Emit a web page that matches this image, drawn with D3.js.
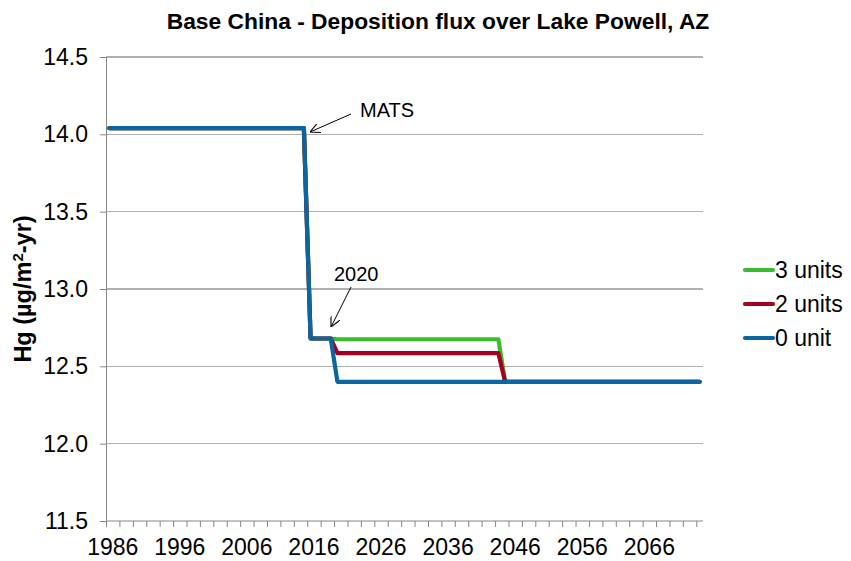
<!DOCTYPE html>
<html>
<head>
<meta charset="utf-8">
<script src="https://cdn.jsdelivr.net/npm/d3@7"></script>
<style>
  html, body { margin: 0; padding: 0; background: #ffffff; }
  svg { display: block; font-family: "Liberation Sans", Arial, sans-serif; }
</style>
</head>
<body>
<svg id="chart" width="851" height="561"></svg>
<script>
// Annual deposition flux, one value per year 1986–2074 (µg/m²-yr)
const years = d3.range(1986, 2075);

const units0 = [
  14.04, 14.04, 14.04, 14.04, 14.04, 14.04, 14.04, 14.04, 14.04, 14.04, // 1986-1995
  14.04, 14.04, 14.04, 14.04, 14.04, 14.04, 14.04, 14.04, 14.04, 14.04, // 1996-2005
  14.04, 14.04, 14.04, 14.04, 14.04, 14.04, 14.04, 14.04, 14.04, 14.04, // 2006-2015
  12.68, 12.68, 12.68, 12.68, 12.40, 12.40, 12.40, 12.40, 12.40, 12.40, // 2016-2025
  12.40, 12.40, 12.40, 12.40, 12.40, 12.40, 12.40, 12.40, 12.40, 12.40, // 2026-2035
  12.40, 12.40, 12.40, 12.40, 12.40, 12.40, 12.40, 12.40, 12.40, 12.40, // 2036-2045
  12.40, 12.40, 12.40, 12.40, 12.40, 12.40, 12.40, 12.40, 12.40, 12.40, // 2046-2055
  12.40, 12.40, 12.40, 12.40, 12.40, 12.40, 12.40, 12.40, 12.40, 12.40, // 2056-2065
  12.40, 12.40, 12.40, 12.40, 12.40, 12.40, 12.40, 12.40, 12.40        // 2066-2074
];

const units2 = [
  14.04, 14.04, 14.04, 14.04, 14.04, 14.04, 14.04, 14.04, 14.04, 14.04,
  14.04, 14.04, 14.04, 14.04, 14.04, 14.04, 14.04, 14.04, 14.04, 14.04,
  14.04, 14.04, 14.04, 14.04, 14.04, 14.04, 14.04, 14.04, 14.04, 14.04,
  12.68, 12.68, 12.68, 12.68, 12.585, 12.585, 12.585, 12.585, 12.585, 12.585,
  12.585, 12.585, 12.585, 12.585, 12.585, 12.585, 12.585, 12.585, 12.585, 12.585,
  12.585, 12.585, 12.585, 12.585, 12.585, 12.585, 12.585, 12.585, 12.585, 12.40,
  12.40, 12.40, 12.40, 12.40, 12.40, 12.40, 12.40, 12.40, 12.40, 12.40,
  12.40, 12.40, 12.40, 12.40, 12.40, 12.40, 12.40, 12.40, 12.40, 12.40,
  12.40, 12.40, 12.40, 12.40, 12.40, 12.40, 12.40, 12.40, 12.40
];

const units3 = [
  14.04, 14.04, 14.04, 14.04, 14.04, 14.04, 14.04, 14.04, 14.04, 14.04,
  14.04, 14.04, 14.04, 14.04, 14.04, 14.04, 14.04, 14.04, 14.04, 14.04,
  14.04, 14.04, 14.04, 14.04, 14.04, 14.04, 14.04, 14.04, 14.04, 14.04,
  12.68, 12.68, 12.68, 12.68, 12.675, 12.675, 12.675, 12.675, 12.675, 12.675,
  12.675, 12.675, 12.675, 12.675, 12.675, 12.675, 12.675, 12.675, 12.675, 12.675,
  12.675, 12.675, 12.675, 12.675, 12.675, 12.675, 12.675, 12.675, 12.675, 12.40,
  12.40, 12.40, 12.40, 12.40, 12.40, 12.40, 12.40, 12.40, 12.40, 12.40,
  12.40, 12.40, 12.40, 12.40, 12.40, 12.40, 12.40, 12.40, 12.40, 12.40,
  12.40, 12.40, 12.40, 12.40, 12.40, 12.40, 12.40, 12.40, 12.40
];

const seriesNames = ["3 units", "2 units", "0 unit"];
const seriesValues = [units3, units2, units0];
const seriesColors = ["#3dbb2e", "#a5001f", "#0a66a0"];

const yTicks = [11.5, 12.0, 12.5, 13.0, 13.5, 14.0, 14.5];
const xLabelYears = [1986, 1996, 2006, 2016, 2026, 2036, 2046, 2056, 2066];

const notes = [
  { text: "MATS", tx: 360, ty: 117, from: [351, 114], to: [310, 132] },
  { text: "2020", tx: 334, ty: 281, from: [351, 287], to: [331, 327] }
];

// ---- layout ----
const svg = d3.select("#chart");
const plot = { left: 106, right: 703, top: 57, bottom: 521 };
const tickFont = 23;

const x = d3.scaleBand().domain(years).range([plot.left, plot.right]).padding(0);
const xc = yr => x(yr) + x.bandwidth() / 2;
const y = d3.scaleLinear().domain([11.5, 14.5]).range([plot.bottom, plot.top]);

// title
svg.append("text")
  .attr("x", 438).attr("y", 29)
  .attr("text-anchor", "middle")
  .attr("font-size", 22.8).attr("font-weight", "bold")
  .attr("fill", "#000")
  .text("Base China - Deposition flux over Lake Powell, AZ");

// horizontal gridlines
svg.append("g")
  .selectAll("line")
  .data(yTicks.filter(t => t > 11.5))
  .join("line")
  .attr("x1", plot.left).attr("x2", plot.right)
  .attr("y1", d => y(d)).attr("y2", d => y(d))
  .attr("stroke", "#b0b0b0").attr("stroke-width", 1.2)
  .attr("shape-rendering", "crispEdges");

// y axis
const yAxis = svg.append("g")
  .attr("transform", `translate(${plot.left},0)`)
  .call(d3.axisLeft(y).tickValues(yTicks).tickSize(6).tickPadding(12).tickFormat(d3.format(".1f")));
yAxis.select(".domain").attr("stroke", "#868686");
yAxis.selectAll(".tick line").attr("stroke", "#868686");
yAxis.selectAll(".tick text").attr("font-size", tickFont).attr("fill", "#000")
  .attr("font-family", "'Liberation Sans', Arial, sans-serif");

// x axis: tick marks every two years at band edges
const xEdge = d3.scaleLinear().domain([0, years.length]).range([plot.left, plot.right]);
const tickIdx = d3.range(0, years.length + 1, 2);
const xAxis = svg.append("g")
  .attr("transform", `translate(0,${plot.bottom})`)
  .call(d3.axisBottom(xEdge).tickValues(tickIdx).tickSize(6).tickFormat(""));
xAxis.select(".domain").attr("stroke", "#868686").attr("d", `M${plot.left},0H${plot.right}`);
xAxis.selectAll(".tick line").attr("stroke", "#868686");

// x labels every ten years, centred on their year
const xLab = svg.append("g")
  .attr("transform", `translate(${x.bandwidth() / 2},${plot.bottom})`)
  .call(d3.axisBottom(x).tickValues(xLabelYears).tickSize(0).tickPadding(18));
xLab.select(".domain").remove();
xLab.selectAll(".tick text").attr("font-size", tickFont).attr("fill", "#000")
  .attr("font-family", "'Liberation Sans', Arial, sans-serif");

// y axis title
const yTitle = svg.append("text")
  .attr("transform", `translate(31,${(plot.top + plot.bottom) / 2}) rotate(-90)`)
  .attr("text-anchor", "middle")
  .attr("font-size", 23.5).attr("font-weight", "bold").attr("fill", "#000");
yTitle.append("tspan").text("Hg (µg/m");
yTitle.append("tspan").attr("font-size", 15).attr("dy", -8).text("2");
yTitle.append("tspan").attr("dy", 8).text("-yr)");

// series lines
const line = d3.line()
  .x((d, i) => xc(years[i]))
  .y(d => y(d));

svg.append("g")
  .selectAll("path")
  .data(seriesValues)
  .join("path")
  .attr("d", d => line(d))
  .attr("fill", "none")
  .attr("stroke", (d, i) => seriesColors[i])
  .attr("stroke-width", 4.2)
  .attr("stroke-linejoin", "round")
  .attr("stroke-linecap", "round");

// annotations
const defs = svg.append("defs");
defs.append("marker")
  .attr("id", "arrow")
  .attr("viewBox", "0 0 10 10")
  .attr("refX", 10).attr("refY", 5)
  .attr("markerWidth", 10).attr("markerHeight", 10)
  .attr("markerUnits", "userSpaceOnUse")
  .attr("orient", "auto")
  .append("path")
  .attr("d", "M0,0L10,5L0,10")
  .attr("fill", "none").attr("stroke", "#000").attr("stroke-width", 1.1);

notes.forEach(n => {
  svg.append("line")
    .attr("x1", n.from[0]).attr("y1", n.from[1])
    .attr("x2", n.to[0]).attr("y2", n.to[1])
    .attr("stroke", "#000").attr("stroke-width", 1)
    .attr("marker-end", "url(#arrow)");
  svg.append("text")
    .attr("x", n.tx).attr("y", n.ty)
    .attr("font-size", 20).attr("fill", "#000")
    .text(n.text);
});

// legend
const legend = svg.append("g").attr("transform", "translate(745,270)");
seriesNames.forEach((name, i) => {
  const g = legend.append("g").attr("transform", `translate(0,${i * 34})`);
  g.append("line").attr("x1", 0).attr("x2", 28).attr("y1", 0).attr("y2", 0)
    .attr("stroke", seriesColors[i]).attr("stroke-width", 4.2).attr("stroke-linecap", "round");
  g.append("text").attr("x", 30).attr("y", 8)
    .attr("font-size", tickFont).attr("fill", "#000").text(name);
});
</script>
</body>
</html>
